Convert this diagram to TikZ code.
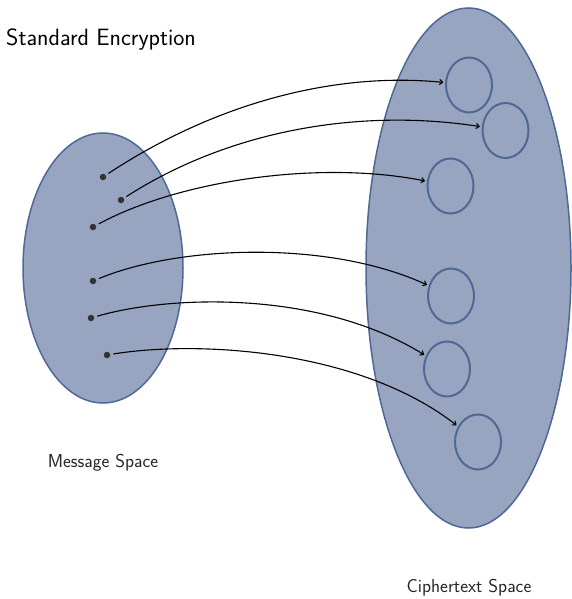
\documentclass[tikz,border=0pt]{standalone}
\usetikzlibrary{shapes.geometric,arrows.meta}
\definecolor{spacefill}{RGB}{151,165,192}
\definecolor{spaceedge}{RGB}{79,104,150}
\definecolor{dotgray}{RGB}{50,50,50}
\begin{document}
\begin{tikzpicture}[x=1pt,y=-1pt,
  space/.style={ellipse,draw=spaceedge,fill=spacefill,line width=1.5pt,inner sep=0pt},
  ctext/.style={ellipse,draw=spaceedge,line width=2pt,inner sep=0pt,minimum width=46pt,minimum height=55pt},
  msg/.style={circle,fill=dotgray,inner sep=0pt,minimum size=6.5pt},
  enc/.style={-{To[length=4pt,width=6pt]},line width=1.1pt,shorten <=3pt,shorten >=2pt},
  lbl/.style={font=\sffamily\fontsize{18.7}{22}\selectfont,text=black!85}]
\useasboundingbox (0,0) rectangle (571,599);

% message space and ciphertext space
\node[space,minimum width=160pt,minimum height=270pt] (M) at (103,268) {};
\node[space,minimum width=205pt,minimum height=520pt] (C) at (468.5,268) {};

% ciphertexts
\node[ctext] (c1) at (469,85) {};
\node[ctext] (c2) at (505.5,130.5) {};
\node[ctext] (c3) at (450.5,186) {};
\node[ctext] (c4) at (451,296) {};
\node[ctext] (c5) at (447,369) {};
\node[ctext] (c6) at (478,442) {};

% messages
\node[msg] (m1) at (103,177) {};
\node[msg] (m2) at (121,200) {};
\node[msg] (m3) at (93,227) {};
\node[msg] (m4) at (93,281) {};
\node[msg] (m5) at (91,318) {};
\node[msg] (m6) at (107,355) {};

% encryption maps
\draw[enc] (m1) .. controls (220,100) and (340,72) .. (c1);
\draw[enc] (m2) .. controls (230,130) and (360,108) .. (c2);
\draw[enc] (m3) .. controls (180,180) and (320,160) .. (c3);
\draw[enc] (m4) .. controls (180,245) and (330,240) .. (c4);
\draw[enc] (m5) .. controls (170,295) and (320,290) .. (c5);
\draw[enc] (m6) .. controls (200,340) and (360,350) .. (c6);

% labels
\node[font=\sffamily\fontsize{23.6}{28}\selectfont,anchor=west,inner sep=0pt] (title) at (6,40) {Standard Encryption};
\node[lbl] (ml) at (103,463) {Message Space};
\node[lbl] (cl) at (469,588) {Ciphertext Space};
\end{tikzpicture}
\end{document}
